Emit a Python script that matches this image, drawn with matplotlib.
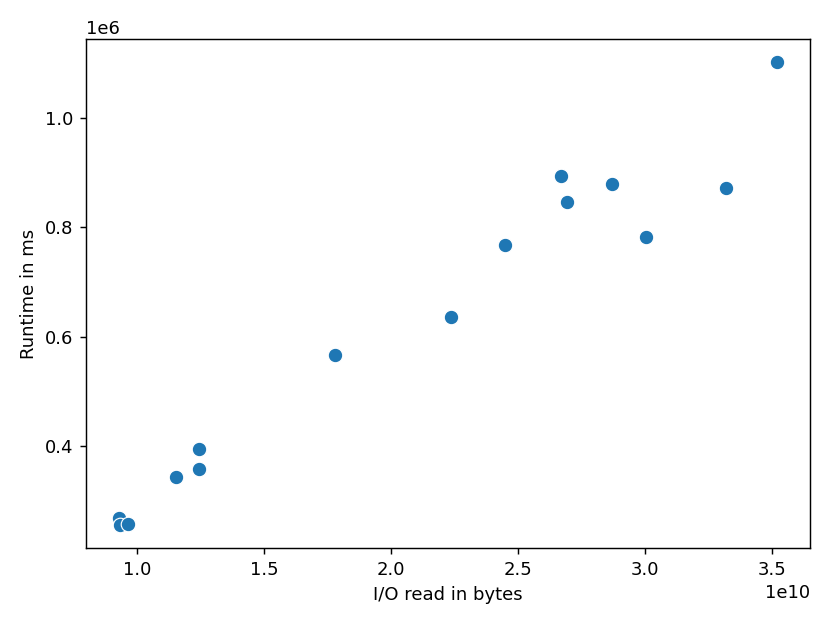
import matplotlib
matplotlib.use("Agg")
import matplotlib.pyplot as plt
import seaborn as sns
import pandas as pd

# I/O read (bytes) vs runtime (ms)
io_read = [0.929e10, 0.933e10, 0.965e10, 1.154e10, 1.244e10, 1.244e10, 1.780e10,
           2.236e10, 2.449e10, 2.669e10, 2.693e10, 2.870e10, 3.004e10, 3.319e10, 3.520e10]
runtime = [0.270e6, 0.257e6, 0.259e6, 0.345e6, 0.396e6, 0.358e6, 0.566e6,
           0.636e6, 0.768e6, 0.894e6, 0.845e6, 0.879e6, 0.782e6, 0.872e6, 1.101e6]

df = pd.DataFrame({"I/O read in bytes": io_read, "Runtime in ms": runtime})

fig = plt.figure(figsize=(830 / 130, 623 / 130), dpi=130)
ax = fig.add_axes([86 / 830, 1 - 548 / 623, (810 - 86) / 830, (548 - 39) / 623])
sns.scatterplot(data=df, x="I/O read in bytes", y="Runtime in ms", ax=ax, s=65)

fig.savefig("out.png", dpi=130)
